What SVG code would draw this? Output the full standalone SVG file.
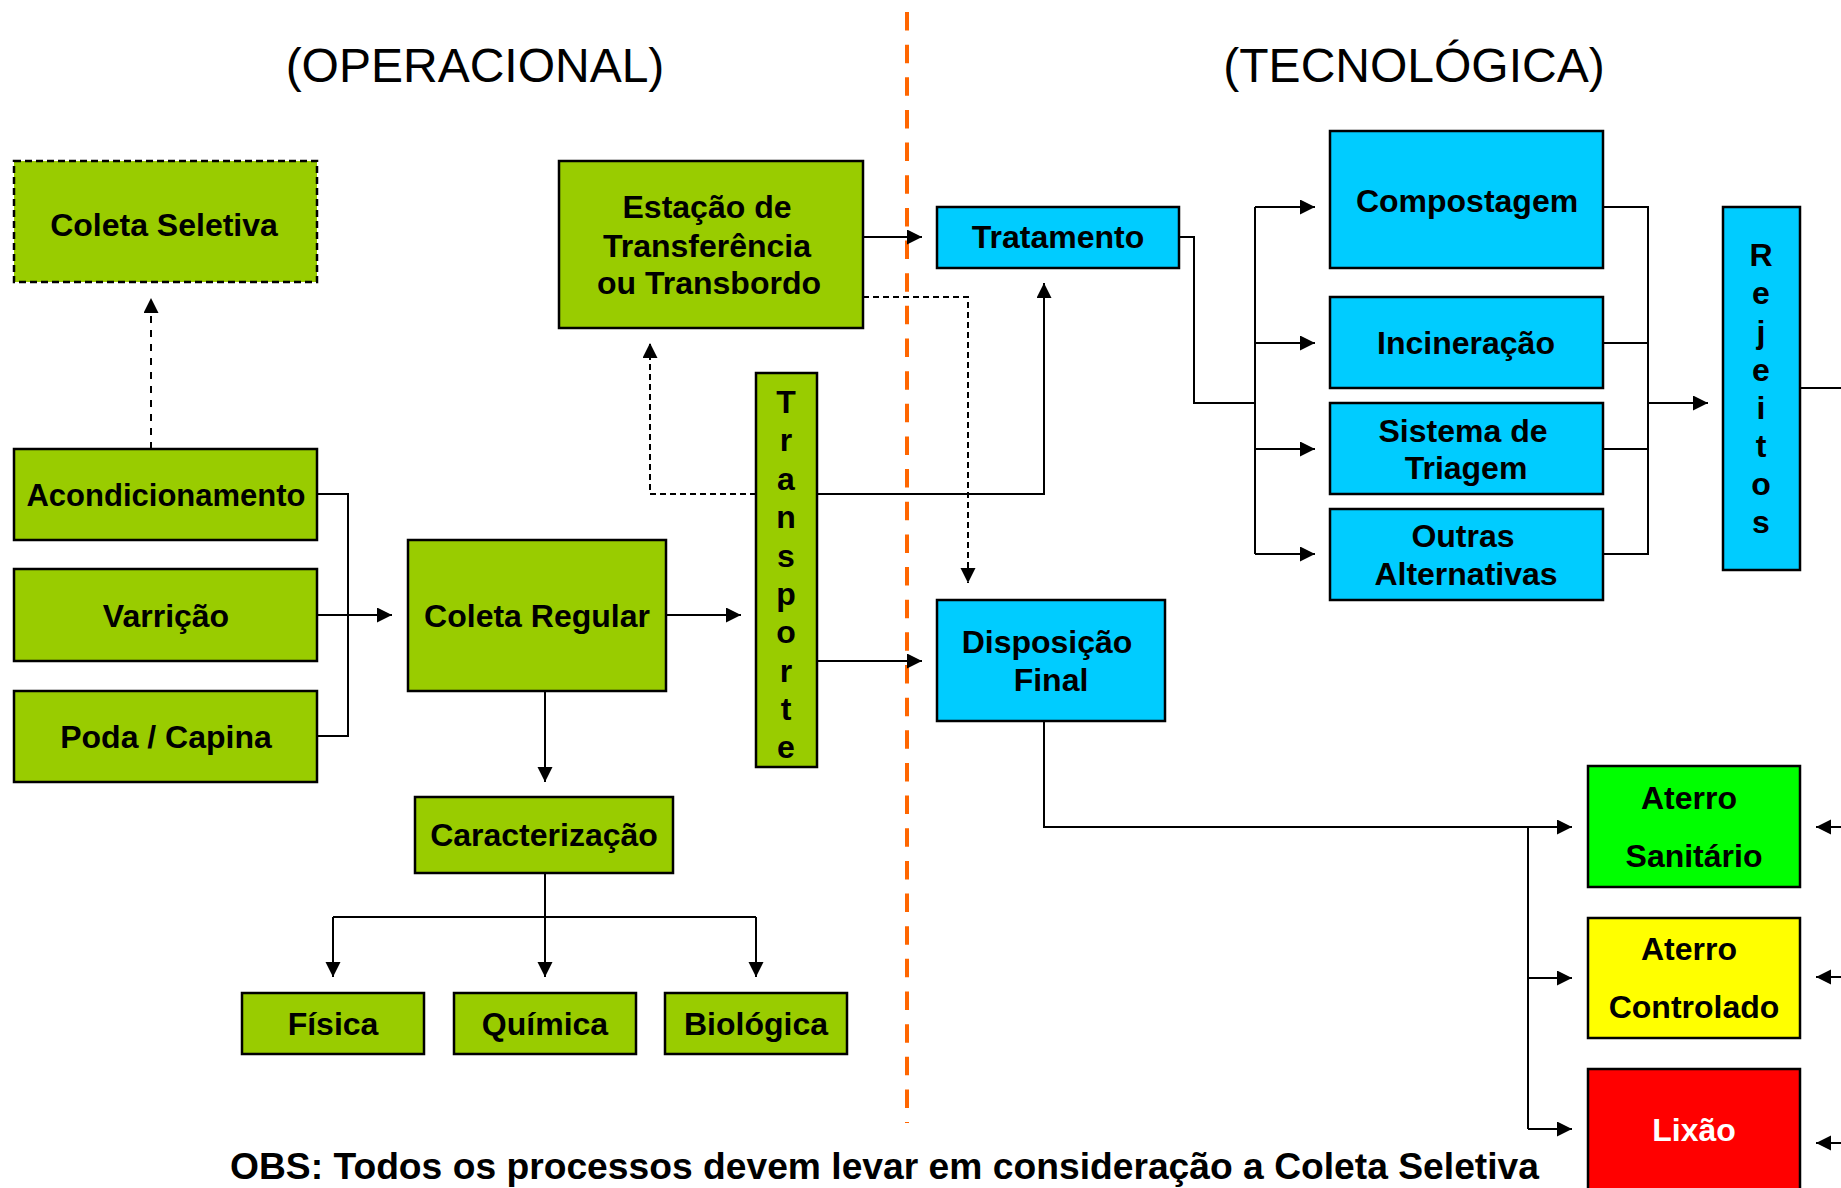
<svg xmlns="http://www.w3.org/2000/svg" width="1841" height="1188" viewBox="0 0 1841 1188">
<defs>
<marker id="ah" markerUnits="userSpaceOnUse" markerWidth="16" markerHeight="16" refX="15" refY="7.5" orient="auto">
<path d="M0,0 L15,7.5 L0,15 z" fill="#000"/>
</marker>
<style>
.g{fill:#99CC00;stroke:#000;stroke-width:2.5}
.b{fill:#00CCFF;stroke:#000;stroke-width:2.5}
.t{font-family:"Liberation Sans",Arial,sans-serif;font-weight:bold;font-size:32px;fill:#000;text-anchor:middle}
.title{font-family:"Liberation Sans",Arial,sans-serif;font-size:48px;fill:#000;text-anchor:middle}
.c{fill:none;stroke:#000;stroke-width:2}
.a{marker-end:url(#ah)}
.d{stroke-dasharray:6 4}
.dl{stroke-dasharray:7 7}
</style>
</defs>
<rect width="1841" height="1188" fill="#fff"/>

<text class="title" x="475" y="82">(OPERACIONAL)</text>
<text class="title" x="1414" y="82">(TECNOLÓGICA)</text>

<line x1="907" y1="12" x2="907" y2="1123" stroke="#FF6600" stroke-width="4" stroke-dasharray="18.5 14.15"/>

<g id="connectors">
<path class="c a dl" d="M151,449 V298"/>
<path class="c" d="M317,494 H348 V736 H317"/>
<path class="c a" d="M317,615 H392"/>
<path class="c a" d="M666,615 H741"/>
<path class="c a" d="M545,691 V782"/>
<path class="c" d="M545,873 V917 M333,917 H756"/>
<path class="c a" d="M333,917 V977"/>
<path class="c a" d="M545,917 V977"/>
<path class="c a" d="M756,917 V977"/>
<path class="c a d" d="M756,494 H650 V343"/>
<path class="c a" d="M817,494 H1044 V283"/>
<path class="c a" d="M817,661 H922"/>
<path class="c a" d="M863,237 H922"/>
<path class="c a d" d="M863,297 H968 V583"/>
<path class="c" d="M1179,237 H1194 V403 H1255 M1255,207 V554"/>
<path class="c a" d="M1255,207 H1315"/>
<path class="c a" d="M1255,343 H1315"/>
<path class="c a" d="M1255,449 H1315"/>
<path class="c a" d="M1255,554 H1315"/>
<path class="c" d="M1603,207 H1648 V554 H1603 M1603,343 H1648 M1603,449 H1648"/>
<path class="c a" d="M1648,403 H1708"/>
<path class="c" d="M1800,388 H1841" stroke-width="1.5"/>
<path class="c a" d="M1044,721 V827 H1572"/>
<path class="c" d="M1528,827 V1129"/>
<path class="c a" d="M1528,978 H1572"/>
<path class="c a" d="M1528,1129 H1572"/>
<path class="c a" d="M1841,827 H1816" stroke-width="1.5"/>
<path class="c a" d="M1841,977 H1816" stroke-width="1.5"/>
<path class="c a" d="M1841,1143 H1816" stroke-width="1.5"/>
</g>

<g id="coleta-seletiva">
<rect x="14" y="161" width="303" height="121" fill="#99CC00" stroke="#000" stroke-width="2.5" stroke-dasharray="7 4"/>
<text class="t" x="164" y="236">Coleta Seletiva</text>
</g>
<g id="estacao">
<rect class="g" x="559" y="161" width="304" height="167"/>
<text class="t" x="707" y="218">Estação de</text>
<text class="t" x="707" y="257">Transferência</text>
<text class="t" x="709" y="294">ou Transbordo</text>
</g>
<g id="acondicionamento">
<rect class="g" x="14" y="449" width="303" height="91"/>
<text class="t" x="166" y="506" style="font-size:31px">Acondicionamento</text>
</g>
<g id="varricao">
<rect class="g" x="14" y="569" width="303" height="92"/>
<text class="t" x="166" y="627">Varrição</text>
</g>
<g id="poda">
<rect class="g" x="14" y="691" width="303" height="91"/>
<text class="t" x="166" y="748">Poda / Capina</text>
</g>
<g id="coleta-regular">
<rect class="g" x="408" y="540" width="258" height="151"/>
<text class="t" x="537" y="627">Coleta Regular</text>
</g>
<g id="transporte">
<rect class="g" x="756" y="373" width="61" height="394"/>
<text class="t" x="786" y="413">T</text>
<text class="t" x="786" y="451">r</text>
<text class="t" x="786" y="490">a</text>
<text class="t" x="786" y="528">n</text>
<text class="t" x="786" y="567">s</text>
<text class="t" x="786" y="605">p</text>
<text class="t" x="786" y="643">o</text>
<text class="t" x="786" y="682">r</text>
<text class="t" x="786" y="720">t</text>
<text class="t" x="786" y="758">e</text>
</g>
<g id="caracterizacao">
<rect class="g" x="415" y="797" width="258" height="76"/>
<text class="t" x="544" y="846">Caracterização</text>
</g>
<g id="fisica">
<rect class="g" x="242" y="993" width="182" height="61"/>
<text class="t" x="333" y="1035">Física</text>
</g>
<g id="quimica">
<rect class="g" x="454" y="993" width="182" height="61"/>
<text class="t" x="545" y="1035">Química</text>
</g>
<g id="biologica">
<rect class="g" x="665" y="993" width="182" height="61"/>
<text class="t" x="756" y="1035">Biológica</text>
</g>

<g id="tratamento">
<rect class="b" x="937" y="207" width="242" height="61"/>
<text class="t" x="1058" y="248">Tratamento</text>
</g>
<g id="disposicao">
<rect class="b" x="937" y="600" width="228" height="121"/>
<text class="t" x="1047" y="653">Disposição</text>
<text class="t" x="1051" y="691">Final</text>
</g>
<g id="compostagem">
<rect class="b" x="1330" y="131" width="273" height="137"/>
<text class="t" x="1467" y="212">Compostagem</text>
</g>
<g id="incineracao">
<rect class="b" x="1330" y="297" width="273" height="91"/>
<text class="t" x="1466" y="354">Incineração</text>
</g>
<g id="triagem">
<rect class="b" x="1330" y="403" width="273" height="91"/>
<text class="t" x="1463" y="442">Sistema de</text>
<text class="t" x="1466" y="479">Triagem</text>
</g>
<g id="outras">
<rect class="b" x="1330" y="509" width="273" height="91"/>
<text class="t" x="1463" y="547">Outras</text>
<text class="t" x="1466" y="585">Alternativas</text>
</g>
<g id="rejeitos">
<rect class="b" x="1723" y="207" width="77" height="363"/>
<text class="t" x="1761" y="266">R</text>
<text class="t" x="1761" y="304">e</text>
<text class="t" x="1761" y="343">j</text>
<text class="t" x="1761" y="381">e</text>
<text class="t" x="1761" y="419">i</text>
<text class="t" x="1761" y="457">t</text>
<text class="t" x="1761" y="495">o</text>
<text class="t" x="1761" y="533">s</text>
</g>
<g id="aterro-sanitario">
<rect x="1588" y="766" width="212" height="121" fill="#00FF00" stroke="#000" stroke-width="2.5"/>
<text class="t" x="1689" y="809">Aterro</text>
<text class="t" x="1694" y="867">Sanitário</text>
</g>
<g id="aterro-controlado">
<rect x="1588" y="918" width="212" height="120" fill="#FFFF00" stroke="#000" stroke-width="2.5"/>
<text class="t" x="1689" y="960">Aterro</text>
<text class="t" x="1694" y="1018">Controlado</text>
</g>
<g id="lixao">
<rect x="1588" y="1069" width="212" height="130" fill="#FF0000" stroke="#000" stroke-width="2.5"/>
<text class="t" x="1694" y="1141" style="fill:#fff">Lixão</text>
</g>

<text x="230" y="1179" textLength="1309" lengthAdjust="spacingAndGlyphs" style="font-family:'Liberation Sans',Arial,sans-serif;font-weight:bold;font-size:37px;fill:#000">OBS: Todos os processos devem levar em consideração a Coleta Seletiva</text>
</svg>
